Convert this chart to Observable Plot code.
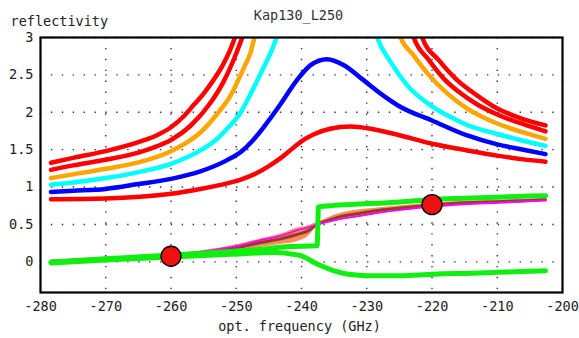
<!DOCTYPE html>
<html><head><meta charset="utf-8">
<script src="https://cdn.jsdelivr.net/npm/d3@7"></script>
<script src="https://cdn.jsdelivr.net/npm/@observablehq/plot@0.6"></script>
<style>body{margin:0;background:#fff}</style>
</head><body><div id="chart"></div>
<script>
const title = "Kap130_L250";
const xLabel = "opt. frequency (GHz)";
const yLabel = "reflectivity";
const xTicks = [-280,-270,-260,-250,-240,-230,-220,-210,-200];
const yTicks = [0,0.5,1,1.5,2,2.5,3];

// upper curves (left and right branches, clipped at top)
const red1LeftF = [-278.4,-275,-270,-265,-262,-260,-258,-256.5,-255,-253.5,-252,-251,-250.2,-249.8];
const red1LeftR = [1.325,1.39,1.48,1.60,1.70,1.80,1.95,2.10,2.25,2.43,2.64,2.82,3.0,3.1];
const red1RightF = [-221.8,-221.5,-219,-216.4,-213,-210,-206.4,-202.6];
const red1RightR = [3.08,3.0,2.70,2.45,2.22,2.05,1.92,1.825];

const red2LeftF = [-278.4,-275,-270,-265,-262,-260,-257,-254,-252,-250.9,-249.9,-249.0,-248.6];
const red2LeftR = [1.23,1.29,1.365,1.46,1.55,1.63,1.82,2.12,2.40,2.60,2.81,3.02,3.12];
const red2RightF = [-223.1,-222.8,-220.5,-218.2,-216,-213,-210,-206,-202.6];
const red2RightR = [3.08,3.0,2.70,2.45,2.28,2.10,1.97,1.84,1.745];

const orangeLeftF = [-278.4,-275,-270,-265,-260,-257.5,-255.5,-252.9,-250.9,-248.8,-247.8,-247.2,-246.8];
const orangeLeftR = [1.12,1.17,1.245,1.33,1.48,1.60,1.73,1.98,2.22,2.60,2.80,3.0,3.1];
const orangeRightF = [-225.1,-224.8,-223,-220.5,-217.5,-214.6,-210,-206,-202.6];
const orangeRightR = [3.08,3.0,2.78,2.50,2.24,2.05,1.85,1.73,1.645];

const cyanLeftF = [-278.4,-275,-270,-265,-260,-255.5,-253,-251.4,-249.3,-248.3,-245.8,-244.6,-243.8,-243.4];
const cyanLeftR = [1.03,1.06,1.12,1.20,1.31,1.49,1.64,1.78,2.0,2.16,2.60,2.82,3.0,3.08];
const cyanRightF = [-228.7,-228.4,-226.4,-223.8,-220,-217,-214.6,-210,-206,-202.6];
const cyanRightR = [3.08,3.0,2.68,2.36,2.08,1.93,1.83,1.71,1.62,1.55];

const blueF = [-278.4,-275,-270,-265,-260,-255.5,-251.4,-249.3,-247.5,-245.8,-243.2,-240.7,-238.6,-236.1,-233.5,-230.5,-227.4,-224.8,-220,-214.6,-210,-206,-202.6];
const blueR = [0.935,0.95,0.975,1.04,1.11,1.21,1.36,1.47,1.62,1.80,2.11,2.43,2.63,2.71,2.63,2.43,2.22,2.07,1.89,1.69,1.57,1.50,1.44];

const redLowF = [-278.4,-270,-264.7,-260,-255.5,-251.4,-249.3,-247,-245,-243,-241.2,-239.5,-238,-235.6,-232.5,-229.4,-225.3,-220,-214.6,-210,-206,-202.6];
const redLowR = [0.836,0.846,0.87,0.91,0.975,1.05,1.10,1.18,1.28,1.40,1.53,1.64,1.71,1.78,1.81,1.78,1.70,1.58,1.49,1.42,1.37,1.34];

// lower curves
const greenStepF = [-278.4,-270,-260,-255,-250,-246,-244,-242,-237.6,-237.4,-235,-231,-228,-225,-220,-215,-210,-205,-202.6];
const greenStepR = [-0.005,0.04,0.09,0.115,0.145,0.17,0.19,0.205,0.215,0.735,0.755,0.775,0.785,0.80,0.835,0.85,0.865,0.88,0.885];

const greenLowF = [-278.4,-270,-260,-255,-250,-246,-244,-242,-240,-237.6,-235,-232.5,-230,-225,-222,-218,-215,-210,-205,-202.6];
const greenLowR = [-0.015,0.025,0.065,0.085,0.105,0.12,0.125,0.11,0.08,-0.03,-0.12,-0.17,-0.185,-0.185,-0.175,-0.16,-0.155,-0.14,-0.125,-0.12];

const sF = [-278.4,-270,-260,-255,-250,-245.8,-243,-240.7,-239,-237.6,-236,-234.5,-231,-228,-224.8,-220,-215,-210,-205,-202.6];
const sLow = [-0.02,0.015,0.06,0.09,0.145,0.20,0.235,0.27,0.34,0.47,0.52,0.55,0.60,0.645,0.68,0.725,0.76,0.78,0.80,0.81];
const sHigh = [0.025,0.06,0.105,0.15,0.225,0.315,0.375,0.45,0.48,0.525,0.585,0.635,0.695,0.725,0.75,0.785,0.81,0.825,0.84,0.85];
const sBrown = [0.0,0.04,0.085,0.125,0.19,0.265,0.31,0.365,0.415,0.50,0.55,0.595,0.65,0.69,0.72,0.76,0.79,0.805,0.82,0.83];
const sMagenta = [0.015,0.05,0.095,0.14,0.21,0.30,0.35,0.42,0.46,0.50,0.535,0.565,0.615,0.66,0.695,0.74,0.77,0.79,0.81,0.82];

const dotF = [-260,-220];
const dotR = [0.075,0.765];

function pts(F, R, seg) { return F.map((f, i) => ({f, r: R[i], seg})); }
function split(lf, lr, rf, rr) { return pts(lf, lr, "L").concat(pts(rf, rr, "R")); }

const red1 = split(red1LeftF, red1LeftR, red1RightF, red1RightR);
const red2 = split(red2LeftF, red2LeftR, red2RightF, red2RightR);
const orange = split(orangeLeftF, orangeLeftR, orangeRightF, orangeRightR);
const cyan = split(cyanLeftF, cyanLeftR, cyanRightF, cyanRightR);
const blue = pts(blueF, blueR, "A");
const redLow = pts(redLowF, redLowR, "A");
const greenStep = pts(greenStepF, greenStepR, "A");
const greenLow = pts(greenLowF, greenLowR, "A");
const sBand = sF.map((f, i) => ({f, lo: sLow[i], hi: sHigh[i], b: sBrown[i], m: sMagenta[i]}));
const dots = dotF.map((f, i) => ({f, r: dotR[i]}));

const lineOpts = (color, w) => ({x: "f", y: "r", z: "seg", stroke: color, strokeWidth: w, curve: "monotone-x", clip: true});
const font = "DejaVu Sans Mono, monospace";

const chart = Plot.plot({
  width: 579,
  height: 338,
  marginLeft: 40,
  marginRight: 17,
  marginTop: 37,
  marginBottom: 46,
  style: {fontFamily: font, fontSize: "13.5px", color: "#222", background: "#fff"},
  x: {domain: [-280, -200]},
  y: {domain: [-0.41, 3]},
  marks: [
    Plot.gridX(xTicks, {stroke: "#333", strokeOpacity: 1, strokeWidth: 1.4, strokeDasharray: "1.4,9.5"}),
    Plot.gridY(yTicks, {stroke: "#333", strokeOpacity: 1, strokeWidth: 1.4, strokeDasharray: "1.4,9.5"}),
    Plot.line(red1, lineOpts("#ff0000", 4.5)),
    Plot.line(red2, lineOpts("#ff0000", 4.5)),
    Plot.line(orange, lineOpts("#ffa500", 4.5)),
    Plot.line(cyan, lineOpts("#00ffff", 4.5)),
    Plot.line(blue, lineOpts("#0000ff", 4.5)),
    Plot.line(redLow, lineOpts("#ff0000", 4.5)),
    Plot.areaY(sBand, {x: "f", y1: "lo", y2: "hi", fill: "#ff8a5a", curve: "monotone-x"}),
    Plot.line(sBand, {x: "f", y: "b", stroke: "#8e3f22", strokeWidth: 3, curve: "monotone-x"}),
    Plot.line(sBand, {x: "f", y: "m", stroke: "#ff00ff", strokeWidth: 1.8, curve: "monotone-x"}),
    Plot.line(greenLow, {x: "f", y: "r", stroke: "#11ee11", strokeWidth: 5, curve: "monotone-x"}),
    Plot.line(greenStep, {x: "f", y: "r", stroke: "#11ee11", strokeWidth: 5, curve: "monotone-x"}),
    Plot.dot(dots, {x: "f", y: "r", r: 10, fill: "#ee1111", stroke: "#000", strokeWidth: 1.3}),
    Plot.frame({stroke: "#000", strokeWidth: 2.2}),
    Plot.axisX({ticks: xTicks, tickFormat: d => String(d), tickSize: 0, tickPadding: 9, label: null, fill: "#222"}),
    Plot.axisY({ticks: yTicks, tickFormat: d => String(d), tickSize: 0, tickPadding: 7, label: null, fill: "#222"}),
    Plot.text([title], {frameAnchor: "top", dx: -3, dy: -22, lineAnchor: "middle", fill: "#333", fontSize: 13.5}),
    Plot.text([yLabel], {frameAnchor: "top-left", dx: -30, dy: -16, textAnchor: "start", lineAnchor: "middle", fill: "#222", fontSize: 13.5}),
    Plot.text([xLabel], {frameAnchor: "bottom", dx: -2, dy: 34, lineAnchor: "middle", fill: "#222", fontSize: 13.5})
  ]
});
document.getElementById("chart").appendChild(chart);
</script>
</body></html>
